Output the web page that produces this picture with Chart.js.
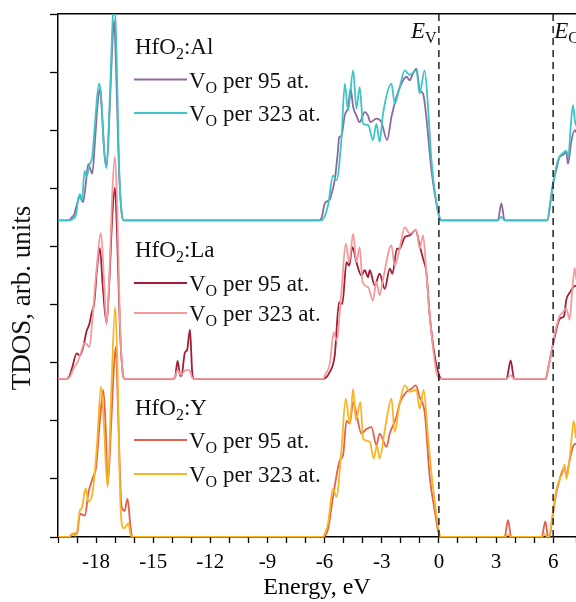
<!DOCTYPE html>
<html>
<head>
<meta charset="utf-8">
<script src="https://cdn.jsdelivr.net/npm/chart.js@4.4.1/dist/chart.umd.min.js"></script>
<style>
  html, body { margin: 0; padding: 0; background: #fff; overflow: hidden; }
</style>
</head>
<body>
<canvas id="tdos" width="576" height="602"></canvas>
<script>
// energy (eV) / TDOS pairs, one list per curve
const energyTicks = [-18, -15, -12, -9, -6, -3, 0, 3, 6];
const bandEdges = [0, 6];
const offsetAl = 5.45, offsetLa = 2.72, offsetY = 0;

const al95 = [
  [-20,0],[-19.5,0],[-19.35,0.02],[-19.25,0.06],[-19.15,0.1],[-19.02,0.26],[-18.85,0.4],[-18.68,0.31],[-18.55,0.6],[-18.41,0.97],[-18.3,0.88],[-18.2,0.8],[-18.05,1.4],[-17.92,2.0],[-17.8,2.27],[-17.68,1.8],[-17.55,1.1],[-17.45,0.92],[-17.3,1.8],[-17.15,3.0],[-17.05,3.44],[-16.95,2.6],[-16.8,0.9],[-16.65,0.1],[-16.55,0],
  [-6.3,0],[-6.15,0.05],[-5.99,0.29],[-5.73,0.36],[-5.6,0.5],[-5.47,0.69],[-5.3,1.2],[-5.24,1.43],[-5.12,1.45],[-4.94,1.81],[-4.76,1.95],[-4.64,2.27],[-4.5,1.95],[-4.33,1.8],[-4.16,1.69],[-3.89,1.86],[-3.72,1.8],[-3.6,1.69],[-3.28,1.75],[-3.02,1.69],[-2.72,1.38],[-2.49,1.78],[-2.23,2.12],[-1.97,2.35],[-1.7,2.47],[-1.53,2.41],[-1.36,2.53],[-1.18,2.61],[-1.0,2.24],[-0.83,2.18],[-0.66,1.78],[-0.39,0.86],[-0.05,0.17],[0.12,0],
  [3.1,0],[3.28,0.29],[3.45,0],
  [5.7,0],[5.85,0.3],[5.99,0.63],[6.15,0.85],[6.34,1.09],[6.5,1.12],[6.69,1.17],[6.78,0.97],[6.95,1.35],[7.13,1.55],[7.25,1.5]
];
const al323 = [
  [-20,0],[-19.4,0],[-19.2,0.03],[-19.05,0.1],[-18.95,0.35],[-18.85,0.45],[-18.75,0.33],[-18.6,0.85],[-18.5,0.75],[-18.35,0.95],[-18.2,1.1],[-18.05,1.7],[-17.85,2.35],[-17.75,2.2],[-17.6,1.3],[-17.45,0.9],[-17.3,1.9],[-17.15,3.3],[-17.07,3.75],[-16.95,3.2],[-16.8,1.0],[-16.65,0.1],[-16.55,0],
  [-6.17,0],[-5.82,0.26],[-5.56,0.77],[-5.38,0.69],[-5.12,1.38],[-4.94,2.35],[-4.77,1.89],[-4.5,2.58],[-4.33,1.92],[-4.16,2.29],[-3.98,1.66],[-3.72,1.64],[-3.46,1.38],[-3.28,1.66],[-3.11,1.35],[-2.93,1.84],[-2.49,2.35],[-2.32,2.01],[-2.06,2.29],[-1.79,2.58],[-1.53,2.5],[-1.18,2.58],[-1.01,2.18],[-0.75,2.58],[-0.57,1.95],[-0.39,1.03],[-0.13,0.29],[0.04,0.03],[0.15,0],
  [3.1,0],[3.28,0.06],[3.45,0],
  [5.7,0],[5.85,0.3],[5.99,0.6],[6.15,0.9],[6.34,1.1],[6.5,1.15],[6.69,1.2],[6.8,1.1],[6.92,1.6],[7.04,1.98],[7.15,1.7],[7.25,1.6]
];
const la95 = [
  [-20,0],[-19.55,0],[-19.4,0.05],[-19.25,0.2],[-19.02,0.44],[-18.85,0.4],[-18.67,0.56],[-18.5,0.82],[-18.35,0.95],[-18.23,1.14],[-18.1,1.3],[-17.95,1.9],[-17.8,2.25],[-17.65,1.6],[-17.45,0.96],[-17.3,1.7],[-17.15,2.8],[-17.01,3.29],[-16.9,2.5],[-16.75,0.9],[-16.6,0.1],[-16.5,0],
  [-14.0,0],[-13.86,0.02],[-13.72,0.31],[-13.58,0.05],[-13.5,0.07],[-13.34,0.45],[-13.22,0.5],[-13.07,0.85],[-12.95,0.1],[-12.85,0],
  [-6.08,0],[-5.73,0.12],[-5.47,0.4],[-5.24,1.32],[-5.07,1.29],[-4.85,2.01],[-4.71,1.95],[-4.54,2.27],[-4.33,2.01],[-4.07,1.78],[-3.89,1.87],[-3.72,1.75],[-3.63,1.87],[-3.37,1.61],[-3.11,1.81],[-2.84,1.55],[-2.58,1.9],[-2.44,1.81],[-2.2,2.24],[-2.06,2.24],[-1.79,2.44],[-1.53,2.47],[-1.22,2.56],[-1.01,2.3],[-0.83,2.07],[-0.66,1.84],[-0.48,1.09],[-0.22,0.4],[0.05,0.03],[0.15,0],
  [3.55,0],[3.77,0.32],[3.95,0],
  [5.6,0],[5.75,0.2],[5.9,0.45],[6.1,0.75],[6.25,0.96],[6.4,1.05],[6.57,1.08],[6.69,1.36],[6.86,1.48],[7.04,1.57],[7.15,1.6],[7.25,1.6]
];
const la323 = [
  [-20,0],[-19.5,0],[-19.35,0.05],[-19.15,0.2],[-18.95,0.3],[-18.8,0.45],[-18.6,0.62],[-18.5,0.6],[-18.35,0.55],[-18.2,1.0],[-18.0,1.8],[-17.74,2.51],[-17.6,1.8],[-17.45,0.93],[-17.3,1.8],[-17.15,3.2],[-17.01,3.83],[-16.9,3.1],[-16.75,1.0],[-16.6,0.1],[-16.5,0],
  [-14.0,0],[-13.86,0.02],[-13.72,0.15],[-13.55,0.07],[-13.3,0.15],[-13.1,0.15],[-12.95,0.02],[-12.85,0],
  [-6.08,0],[-5.99,0.06],[-5.73,0.26],[-5.52,0.8],[-5.38,0.66],[-5.12,1.49],[-4.89,2.33],[-4.71,2.01],[-4.5,2.5],[-4.33,2.01],[-4.16,2.27],[-4.01,1.67],[-3.72,1.58],[-3.46,1.35],[-3.28,1.67],[-3.11,1.44],[-2.93,1.72],[-2.49,2.3],[-2.32,1.95],[-2.06,2.24],[-1.79,2.61],[-1.53,2.5],[-1.18,2.56],[-1.01,2.24],[-0.83,2.47],[-0.66,1.84],[-0.48,1.09],[-0.13,0.12],[0.1,0],
  [3.55,0],[3.77,0.06],[3.95,0],
  [5.6,0],[5.75,0.2],[5.9,0.45],[6.1,0.8],[6.34,1.08],[6.52,1.15],[6.69,1.22],[6.86,1.02],[7.0,1.5],[7.13,1.91],[7.22,1.71],[7.3,1.6]
];
const y95 = [
  [-20,0],[-19.5,0],[-19.25,0.04],[-19.1,0.06],[-19.0,0.05],[-18.85,0.4],[-18.7,0.38],[-18.58,0.37],[-18.41,0.75],[-18.15,1.04],[-18.0,1.2],[-17.8,2.0],[-17.62,2.53],[-17.5,1.9],[-17.39,0.89],[-17.2,2.0],[-17.05,3.0],[-16.96,3.27],[-16.85,2.2],[-16.66,0.52],[-16.5,0.45],[-16.35,0.66],[-16.2,0.2],[-16.1,0],
  [-6.1,0],[-5.82,0.14],[-5.56,0.69],[-5.2,1.32],[-5.03,1.41],[-4.85,2.0],[-4.68,1.95],[-4.5,2.32],[-4.33,2.12],[-4.07,1.78],[-3.8,1.86],[-3.54,1.89],[-3.28,1.58],[-3.11,1.78],[-2.75,1.55],[-2.58,1.78],[-2.23,2.07],[-2.06,2.3],[-1.7,2.5],[-1.44,2.55],[-1.22,2.61],[-1.01,2.41],[-0.74,2.13],[-0.48,1.03],[-0.22,0.46],[0.05,0],
  [3.45,0],[3.63,0.29],[3.8,0],
  [5.4,0],[5.59,0.27],[5.72,0.02],[5.8,0],[5.95,0.3],[6.16,0.75],[6.35,1.0],[6.5,1.15],[6.6,1.2],[6.7,1.05],[6.85,1.3],[7.04,1.55],[7.15,1.6],[7.25,1.6]
];
const y323 = [
  [-20,0],[-19.4,0],[-19.25,0.06],[-19.1,0.02],[-19.0,0.1],[-18.85,0.46],[-18.75,0.5],[-18.55,0.84],[-18.41,0.61],[-18.23,0.69],[-18.1,1.0],[-17.95,1.6],[-17.74,2.59],[-17.6,2.0],[-17.4,0.86],[-17.2,2.5],[-17.0,3.96],[-16.9,3.2],[-16.7,0.4],[-16.55,0.15],[-16.4,0.2],[-16.3,0.24],[-16.2,0.05],[-16.1,0],
  [-6.1,0],[-5.99,0.06],[-5.82,0.23],[-5.56,0.83],[-5.38,0.69],[-5.12,1.49],[-4.89,2.38],[-4.68,1.95],[-4.5,2.55],[-4.36,2.01],[-4.12,2.32],[-3.98,1.69],[-3.63,1.64],[-3.42,1.35],[-3.25,1.58],[-3.11,1.35],[-2.84,1.84],[-2.49,2.38],[-2.32,1.81],[-2.06,2.3],[-1.79,2.61],[-1.53,2.5],[-1.18,2.53],[-1.01,2.21],[-0.8,2.53],[-0.57,1.72],[-0.31,0.86],[0.05,0.03],[0.12,0],
  [3.45,0],[3.63,0.04],[3.8,0],
  [5.4,0],[5.55,0.05],[5.7,0],[5.8,0],[5.95,0.35],[6.16,0.8],[6.35,1.0],[6.5,1.1],[6.6,1.25],[6.7,1.0],[6.85,1.3],[7.0,1.8],[7.08,2.0],[7.2,1.7],[7.3,1.6]
];

const colAl95 = '#8c6a99', colAl323 = '#3ec3c7';
const colLa95 = '#a11d38', colLa323 = '#f59a9c';
const colY95 = '#e2614c', colY323 = '#f9b526';

function curve(label, pts, offset, color) {
  return {
    label: label,
    data: pts.map(p => ({ x: p[0], y: p[1] + offset })),
    borderColor: color,
    borderWidth: 1.8,
    pointRadius: 0,
    fill: false,
    cubicInterpolationMode: 'monotone'
  };
}

function edgeLine(e) {
  return {
    label: 'edge' + e,
    data: [{ x: e, y: 0 }, { x: e, y: 9 }],
    borderColor: '#222',
    borderWidth: 1.5,
    borderDash: [7, 5],
    pointRadius: 0,
    fill: false
  };
}

var serif = '"Liberation Serif", "Times New Roman", serif';

function drawRich(ctx, x, y, parts) {
  parts.forEach((p) => {
    var t = p[0], kind = p[1];
    if (kind == 'sub') ctx.font = '16px ' + serif;
    else if (kind == 'it') ctx.font = 'italic 23px ' + serif;
    else ctx.font = '23px ' + serif;
    ctx.fillText(t, x, y + (kind == 'sub' ? 5 : 0));
    x += ctx.measureText(t).width;
  });
}

// panel legends, band edge labels and the y title
const panelText = {
  id: 'panelText',
  afterDatasetsDraw(chart) {
    var ctx = chart.ctx;
    var xs = chart.scales.x;
    ctx.save();
    ctx.fillStyle = '#111';
    ctx.textBaseline = 'alphabetic';

    var blocks = [
      { dopant: 'Al', ty: 54, rows: [[79.5, colAl95, '95'], [113, colAl323, '323']] },
      { dopant: 'La', ty: 257, rows: [[283, colLa95, '95'], [313, colLa323, '323']] },
      { dopant: 'Y', ty: 415, rows: [[440, colY95, '95'], [474, colY323, '323']] }
    ];
    blocks.forEach((b) => {
      drawRich(ctx, 135, b.ty, [['HfO'], ['2', 'sub'], [':' + b.dopant]]);
      b.rows.forEach((r) => {
        ctx.strokeStyle = r[1];
        ctx.lineWidth = 2;
        ctx.beginPath();
        ctx.moveTo(134, r[0]);
        ctx.lineTo(187, r[0]);
        ctx.stroke();
        drawRich(ctx, 189, r[0] + 8, [['V'], ['O', 'sub'], [' per ' + r[2] + ' at.']]);
      });
    });

    var top = chart.chartArea.top;
    drawRich(ctx, xs.getPixelForValue(bandEdges[0]) - 28, top + 24, [['E', 'it'], ['V', 'sub']]);
    drawRich(ctx, xs.getPixelForValue(bandEdges[1]) + 1, top + 24, [['E', 'it'], ['C', 'sub']]);

    ctx.translate(23, 298);
    ctx.rotate(-Math.PI / 2);
    ctx.textAlign = 'center';
    ctx.textBaseline = 'middle';
    ctx.font = '27px ' + serif;
    ctx.fillText('TDOS, arb. units', 0, 0);
    ctx.restore();
  }
};

new Chart(document.getElementById('tdos'), {
  type: 'line',
  data: {
    datasets: [
      edgeLine(bandEdges[0]), edgeLine(bandEdges[1]),
      curve('HfO2:Al VO per 323 at.', al323, offsetAl, colAl323),
      curve('HfO2:Al VO per 95 at.', al95, offsetAl, colAl95),
      curve('HfO2:La VO per 323 at.', la323, offsetLa, colLa323),
      curve('HfO2:La VO per 95 at.', la95, offsetLa, colLa95),
      curve('HfO2:Y VO per 323 at.', y323, offsetY, colY323),
      curve('HfO2:Y VO per 95 at.', y95, offsetY, colY95)
    ]
  },
  options: {
    responsive: false,
    animation: false,
    layout: { padding: 0 },
    plugins: { legend: { display: false }, tooltip: { enabled: false } },
    scales: {
      x: {
        type: 'linear', position: 'bottom', min: -20, max: 7.2,
        ticks: {
          stepSize: 1, autoSkip: false, maxRotation: 0, color: '#000', padding: 7,
          font: { family: serif, size: 21 },
          callback: (v) => energyTicks.includes(v) ? String(v) : ''
        },
        grid: { drawOnChartArea: false, tickLength: 6, color: '#000', tickWidth: 1.3 },
        border: { color: '#000', width: 1.5 },
        title: { display: true, text: 'Energy, eV', color: '#000', font: { family: serif, size: 24 }, padding: { top: 0, bottom: 0 } },
        afterFit: (s) => { s.height = 65; s.paddingLeft = 0; s.paddingRight = 0; }
      },
      xTop: {
        type: 'linear', position: 'top', min: -20, max: 7.2,
        ticks: { display: false },
        grid: { display: false },
        border: { color: '#000', width: 1.5 },
        afterFit: (s) => { s.height = 14; s.paddingLeft = 0; s.paddingRight = 0; }
      },
      y: {
        min: 0, max: 9,
        ticks: { stepSize: 1, padding: 0, callback: () => '' },
        grid: { drawOnChartArea: false, tickLength: 8, color: '#000', tickWidth: 1.3 },
        border: { color: '#000', width: 1.5 },
        afterFit: (s) => { s.width = 58; s.paddingTop = 0; s.paddingBottom = 0; }
      }
    }
  },
  plugins: [panelText]
});
</script>
</body>
</html>
